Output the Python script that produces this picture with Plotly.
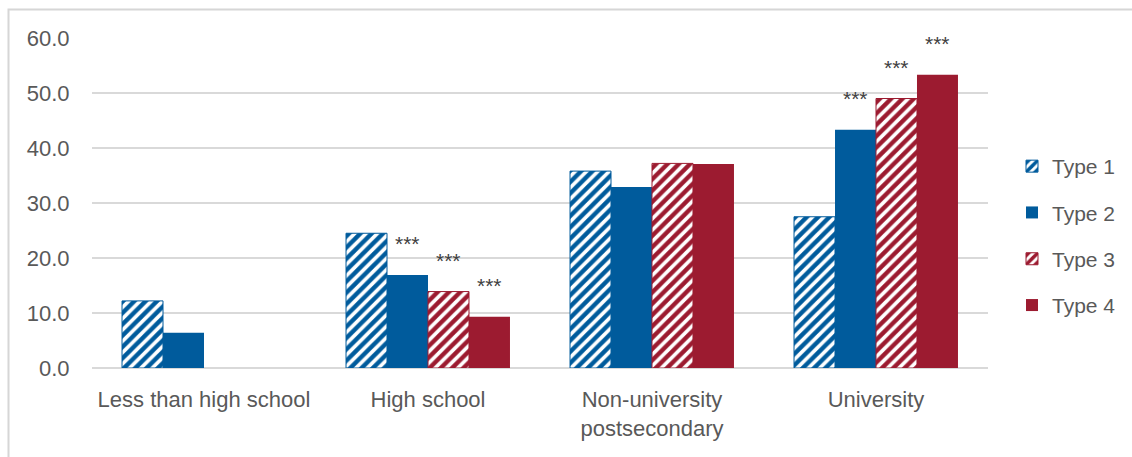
import plotly.graph_objects as go

# Education level categories and the share (%) for each type
categories = ["Less than high school", "High school", "Non-university<br>postsecondary", "University"]
series_names = ["Type 1", "Type 2", "Type 3", "Type 4"]
type1 = [12.2, 24.5, 35.8, 27.5]
type2 = [6.4, 16.9, 32.9, 43.3]
type3 = [None, 13.9, 37.2, 49.0]
type4 = [None, 9.3, 37.1, 53.3]
# significance markers: (category index, series index)
significant = [(1, 1), (1, 2), (1, 3), (3, 1), (3, 2), (3, 3)]
y_ticks = [0, 10, 20, 30, 40, 50, 60]

BLUE = "#005B9C"
RED = "#9C1B30"
FONT = "Liberation Sans, Arial, sans-serif"

values = [type1, type2, type3, type4]
colors = [BLUE, BLUE, RED, RED]
hatched = [True, False, True, False]

fig = go.Figure()
for i, (name, vals) in enumerate(zip(series_names, values)):
    if hatched[i]:
        marker = dict(
            color=colors[i],
            line=dict(color=colors[i], width=1),
            pattern=dict(shape="/", fgcolor=colors[i], bgcolor="white",
                         fgopacity=1, fillmode="replace",
                         size=8, solidity=0.55),
        )
    else:
        marker = dict(color=colors[i], line=dict(color=colors[i], width=0))
    fig.add_trace(go.Bar(
        x=list(range(len(categories))), y=vals, name=name,
        marker=marker, legendgroup=name,
    ))

bargap = 0.268
bar_w = (1 - bargap) / len(series_names)
for ci, si in significant:
    fig.add_annotation(
        x=ci + (si - (len(series_names) - 1) / 2) * bar_w,
        y=values[si][ci], text="***", showarrow=False,
        yanchor="bottom", yshift=18,
        font=dict(family=FONT, size=21, color="#404040"),
    )

# light frame around the whole chart
fig.add_shape(type="rect", xref="paper", yref="paper",
              x0=(8.5 - 92) / 896, x1=(1145 - 92) / 896,
              y0=(368 - 470) / 330, y1=(368 - 9.5) / 330,
              line=dict(color="#d6d6d6", width=2), layer="below")

fig.update_layout(
    width=1132, height=457,
    margin=dict(l=92, r=144, t=38, b=89),
    paper_bgcolor="white", plot_bgcolor="white",
    barmode="group", bargap=bargap, bargroupgap=0,
    font=dict(family=FONT, size=22, color="#595959"),
    showlegend=True,
    legend=dict(xref="container", yref="container",
                x=1012 / 1132, xanchor="left", y=(457 - 236) / 457, yanchor="middle",
                font=dict(family=FONT, size=21, color="#595959"),
                tracegroupgap=16, itemclick=False),
)
fig.update_xaxes(
    tickmode="array", tickvals=list(range(len(categories))), ticktext=categories,
    range=[-0.5, len(categories) - 0.5],
    showline=False, showgrid=False, ticks="outside", ticklen=12,
    tickcolor="rgba(0,0,0,0)", tickfont=dict(size=22),
)
fig.update_yaxes(
    range=[0, 60], tickvals=y_ticks, tickformat=".1f",
    showgrid=True, gridcolor="#d9d9d9", gridwidth=1.5,
    zeroline=True, zerolinecolor="#d9d9d9", zerolinewidth=1.5,
    showline=False, ticks="outside", ticklen=17, tickcolor="rgba(0,0,0,0)",
    tickfont=dict(size=22),
)

fig.write_html("out.html")
